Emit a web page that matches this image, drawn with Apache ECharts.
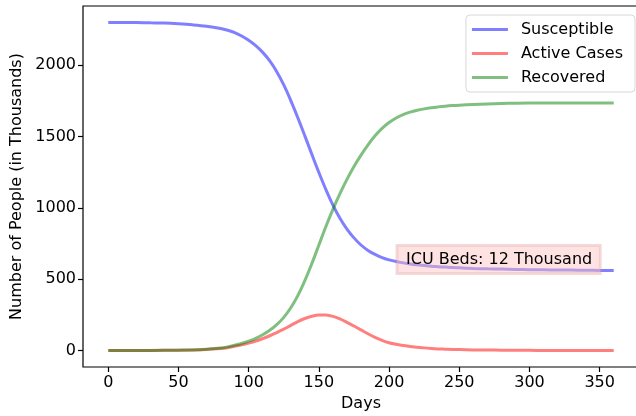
<!DOCTYPE html>
<html>
<head>
<meta charset="utf-8">
<script src="https://cdn.jsdelivr.net/npm/echarts@6/dist/echarts.min.js"></script>
<style>html,body{margin:0;padding:0;background:#fff}#c{width:636px;height:416px}</style>
</head>
<body>
<div id="c"></div>
<script>
const days = [0,10,20,30,40,50,60,70,80,85,90,95,100,105,110,115,120,125,130,135,140,145,150,155,160,165,170,175,180,185,190,195,200,205,210,215,220,225,230,235,240,245,250,260,270,280,290,300,310,320,330,340,350,360];
const susceptible = [2300,2300,2299,2297,2295,2290,2283,2273,2257,2245,2229,2205,2175,2137,2090,2030,1955,1862,1752,1632,1505,1375,1248,1128,1020,928,852,790,740,702,674,652,636,624,615,607,601,596,591,588,585,582,580,576,573,571,569,567,566,565,564,563,562,561];
const active = [0,0,1,1,2,3,4,7,14,20,30,40,52,66,84,104,126,150,177,203,225,241,250,249,240,222,198,172,145,118,93,72,55,44,35,29,24,19,15,12,10,8,7,5,4,3,2,2,1,1,1,1,1,1];
const recovered = [0,0,0,1,2,3,5,10,18,26,37,50,66,86,111,142,182,233,300,385,490,610,740,870,990,1100,1200,1290,1370,1442,1505,1557,1598,1630,1654,1671,1684,1694,1702,1708,1713,1717,1720,1725,1729,1732,1734,1735,1735,1735,1736,1736,1736,1736];
const xTicks = [0,50,100,150,200,250,300,350];
const yTicks = [0,500,1000,1500,2000];
const seriesNames = ['Susceptible','Active Cases','Recovered'];
const annotationText = 'ICU Beds: 12 Thousand';
const annotationAt = [278, 638];

const FONT = 'DejaVu Sans';
const pair = arr => days.map((d,i)=>[d,arr[i]]);
const chart = echarts.init(document.getElementById('c'), null, {renderer:'canvas'});
const lineSeries = (name, arr, color) => ({
  name, type:'line', data: pair(arr), symbol:'none', smooth:0.35,
  lineStyle:{color, width:3, opacity:0.5}, itemStyle:{color, opacity:0.5},
  emphasis:{disabled:true}, animation:false
});
const s1 = lineSeries(seriesNames[0], susceptible, '#0000ff');
s1.markPoint = {
  symbol:'circle', symbolSize:0, silent:true, animation:false,
  data:[{coord:annotationAt}],
  label:{show:true, position:'inside', formatter:annotationText, fontFamily:FONT, fontSize:16, color:'#000',
    backgroundColor:'rgba(255,190,190,0.45)', borderColor:'rgba(215,150,150,0.35)', borderWidth:1.5,
    padding:[5,8,4,9], lineHeight:19}
};
chart.setOption({
  animation:false,
  grid:{left:83, top:6, width:556, bottom:49, show:true, borderColor:'#000', borderWidth:1.2,
    backgroundColor:'transparent', containLabel:false, outerBoundsMode:'none'},
  legend:{
    data:seriesNames.map(n=>({name:n, icon:'rect'})), orient:'vertical', right:1, top:15,
    backgroundColor:'#fff', borderColor:'#d8d8d8', borderWidth:1, borderRadius:4,
    padding:[5,12,5,6], itemGap:5, itemWidth:36, itemHeight:3,
    textStyle:{fontFamily:FONT, fontSize:16, color:'#000', padding:[0,0,0,8], lineHeight:19}
  },
  xAxis:{
    type:'value', min:-18, max:378,
    name:'Days', nameLocation:'middle', nameGap:29,
    nameTextStyle:{fontFamily:FONT, fontSize:16, color:'#000'},
    axisLine:{show:false, onZero:false},
    axisTick:{show:true, length:5, lineStyle:{color:'#000', width:1.2}, customValues:xTicks},
    axisLabel:{fontFamily:FONT, fontSize:16, color:'#000', margin:8, customValues:xTicks, formatter:v=>String(v)},
    splitLine:{show:false}
  },
  yAxis:{
    type:'value', min:-115, max:2415,
    name:'Number of People (in Thousands)', nameLocation:'middle', nameGap:52,
    nameTextStyle:{fontFamily:FONT, fontSize:16, color:'#000'},
    axisLine:{show:false, onZero:false},
    axisTick:{show:true, length:5, lineStyle:{color:'#000', width:1.2}, customValues:yTicks},
    axisLabel:{fontFamily:FONT, fontSize:16, color:'#000', margin:7, customValues:yTicks, formatter:v=>String(v)},
    splitLine:{show:false}
  },
  series:[
    s1,
    lineSeries(seriesNames[1], active, '#ff0000'),
    lineSeries(seriesNames[2], recovered, '#008000')
  ]
});
</script>
</body>
</html>
